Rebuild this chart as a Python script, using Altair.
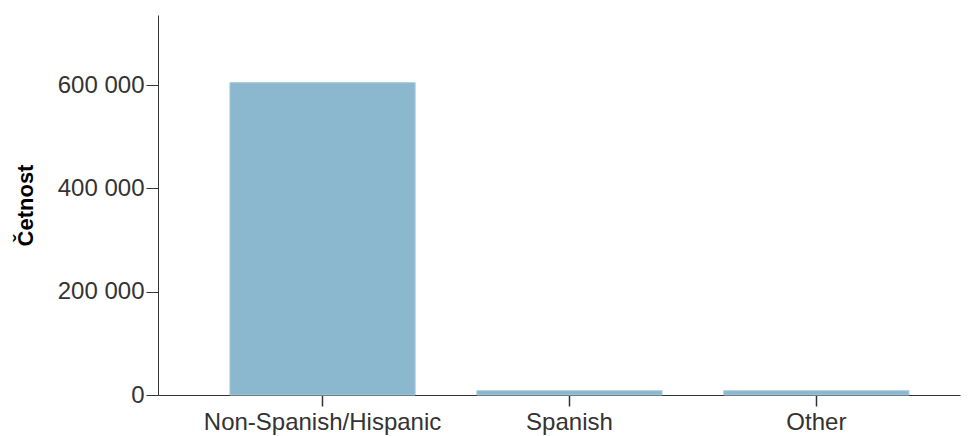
import altair as alt
import pandas as pd

categories = ["Non-Spanish/Hispanic", "Spanish", "Other"]
counts = [605000, 8300, 8300]

df = pd.DataFrame({"cat": categories, "count": counts})

chart = alt.Chart(df).mark_bar(color="#8cb8cf", stroke="#a9cadb", strokeWidth=1).encode(
    x=alt.X("cat:N", sort=categories, title=None,
            scale=alt.Scale(paddingInner=0.25, paddingOuter=0.249, align=0.585),
            axis=alt.Axis(labelAngle=0, labelFontSize=24, labelColor="#333333",
                          labelFont="Liberation Sans", tickSize=11, tickColor="#333333",
                          tickWidth=1.5, labelLimit=0,
                          domainColor="#333333", labelPadding=4)),
    y=alt.Y("count:Q", title="Četnost",
            scale=alt.Scale(domain=[0, 736000], nice=False),
            axis=alt.Axis(values=[0, 200000, 400000, 600000], grid=False,
                          labelExpr="replace(format(datum.value, ','), ',', ' ')",
                          labelFontSize=24, labelColor="#333333", labelFont="Liberation Sans",
                          tickSize=12, tickColor="#333333", domainColor="#333333",
                          titleFontSize=22, titleFont="Liberation Sans", titleFontWeight="bold",
                          titleColor="#000000", titlePadding=20, labelPadding=2)),
).properties(
    width=802, height=380,
    autosize=alt.AutoSizeParams(type="none"),
    padding={"left": 150, "top": 7, "right": 3, "bottom": 41},
).configure_view(stroke=None)

chart.save("out.html", embed_options={"renderer": "svg", "actions": False})
